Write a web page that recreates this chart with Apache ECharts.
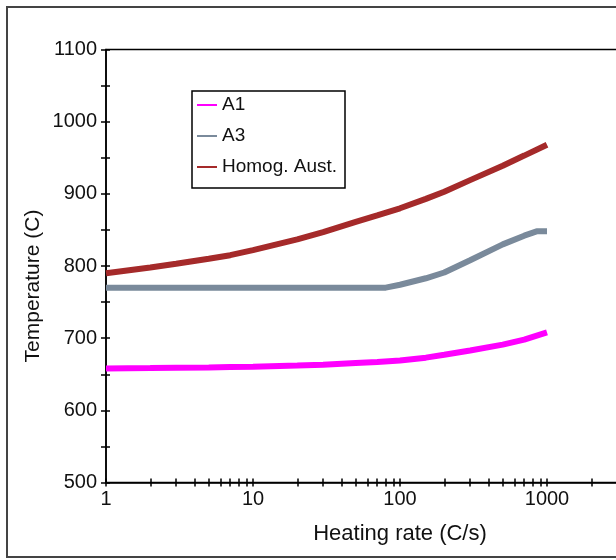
<!DOCTYPE html>
<html>
<head>
<meta charset="utf-8">
<script src="https://cdn.jsdelivr.net/npm/echarts@6/dist/echarts.min.js"></script>
<style>
  html, body { margin: 0; padding: 0; background: #fff; }
  #chart { width: 616px; height: 560px; }
</style>
</head>
<body>
<div id="chart"></div>
<script>
// Transformation temperatures versus heating rate
const heatingRate = [1, 2, 3, 5, 7, 10, 20, 30, 50, 70, 100, 150, 200, 300, 500, 700, 1000];
const a1Temp      = [658, 658.5, 659, 659.5, 660, 660.5, 662, 663, 665.5, 667, 669, 673, 677, 683, 691, 698, 708];
const a3Rate      = [1, 80, 100, 150, 200, 300, 500, 700, 850, 1000];
const a3Temp      = [770, 770, 774, 783, 791, 808, 830, 842, 848, 848];
const homogTemp   = [790, 798, 803, 810, 815, 822, 837, 847, 861, 870, 880, 893, 903, 919, 939, 953, 968];

const seriesNames = ['A1', 'A3', 'Homog. Aust.'];
const xDecades = [1, 10, 100, 1000, 10000];
const xMantissas = [1, 2, 3, 4, 5, 6, 7, 8, 9];
const yRange = [500, 1100];

const FONT = "'Liberation Sans', Arial, sans-serif";

// tick positions in decade units for the log axis (1, 2, ... 9, 10, 20 ...)
const xTickPos = [];
xDecades.slice(0, -1).forEach(d => xMantissas.forEach(m => xTickPos.push(Math.log10(m * d))));
xTickPos.push(Math.log10(xDecades[xDecades.length - 1]));

const pairs = (xs, ys) => xs.map((x, i) => [x, ys[i]]);

const chart = echarts.init(document.getElementById('chart'), null, { renderer: 'canvas' });

// helper axes that only draw the crossing tick marks of the log axis
const tickAxis = (inside) => ({
  type: 'value', min: 0, max: 4, position: 'bottom', gridIndex: 0,
  axisLine: { show: false, onZero: false },
  axisLabel: { show: false },
  splitLine: { show: false },
  axisTick: { show: true, inside: inside, length: 4, customValues: xTickPos,
              lineStyle: { color: '#000', width: 1.5 } }
});

const yAxisBase = (inside) => ({
  type: 'value', min: yRange[0], max: yRange[1], interval: 50, position: 'left',
  axisLine: { show: !inside, onZero: false, lineStyle: { color: '#000', width: 1.5 } },
  splitLine: { show: false },
  axisTick: { show: true, inside: inside, length: inside ? 4 : 5,
              lineStyle: { color: '#000', width: 1.5 } },
  axisLabel: inside ? { show: false } : {
    show: true, fontSize: 20, fontFamily: FONT, color: '#111', margin: 9,
    formatter: v => (v % 100 === 0 ? String(v) : '')
  }
});

chart.setOption({
  animation: false,
  backgroundColor: '#fff',
  grid: {
    left: 106, top: 49.5, width: 588, height: 433,
    outerBoundsMode: 'none', containLabel: false,
    show: true, borderColor: '#000', borderWidth: 1.5, backgroundColor: 'transparent'
  },
  xAxis: [
    {
      type: 'log', logBase: 10, min: 1, max: 10000, position: 'bottom',
      axisLine: { onZero: false, lineStyle: { color: '#000', width: 1.5 } },
      axisTick: { show: false },
      splitLine: { show: false },
      axisLabel: { fontSize: 20, fontFamily: FONT, color: '#111', margin: 7,
                   formatter: v => String(v) },
      name: 'Heating rate (C/s)', nameLocation: 'middle', nameGap: 40,
      nameTextStyle: { fontSize: 22, fontFamily: FONT, color: '#111' }
    },
    tickAxis(false),
    tickAxis(true)
  ],
  yAxis: [yAxisBase(false), yAxisBase(true)],
  legend: {
    orient: 'vertical', left: 197, top: 95.5, padding: 0,
    icon: 'rect', itemWidth: 20, itemHeight: 2, itemGap: 12,
    data: seriesNames,
    textStyle: { fontSize: 19, lineHeight: 19, fontFamily: FONT, color: '#111' }
  },
  series: [
    { name: seriesNames[0], type: 'line', showSymbol: false, xAxisIndex: 0, yAxisIndex: 0,
      color: '#FF00FF', lineStyle: { width: 6, color: '#FF00FF' }, data: pairs(heatingRate, a1Temp) },
    { name: seriesNames[1], type: 'line', showSymbol: false, xAxisIndex: 0, yAxisIndex: 0,
      color: '#7A8A9B', lineStyle: { width: 6, color: '#7A8A9B' }, data: pairs(a3Rate, a3Temp) },
    { name: seriesNames[2], type: 'line', showSymbol: false, xAxisIndex: 0, yAxisIndex: 0,
      color: '#A52A2A', lineStyle: { width: 6, color: '#A52A2A' }, data: pairs(heatingRate, homogTemp) }
  ],
  graphic: [
    { type: 'rect', shape: { x: 7, y: 7, width: 700, height: 550 },
      style: { fill: 'none', stroke: '#444', lineWidth: 2 }, silent: true },
    { type: 'rect', shape: { x: 192, y: 91, width: 153, height: 97 },
      style: { fill: 'none', stroke: '#000', lineWidth: 1.5 }, silent: true },
    { type: 'text', x: 33, y: 286, rotation: Math.PI / 2,
      style: { text: 'Temperature (C)', x: 0, y: 0, align: 'center', verticalAlign: 'middle',
               font: '21px ' + FONT, fill: '#111' }, silent: true }
  ]
});
</script>
</body>
</html>
